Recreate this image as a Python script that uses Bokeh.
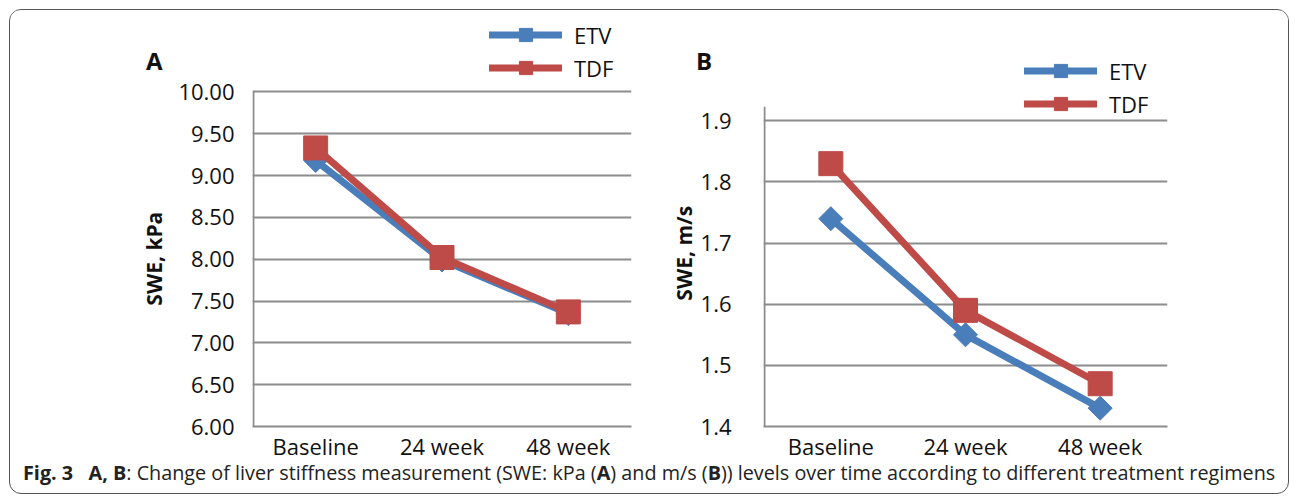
import math
from bokeh.plotting import figure
from bokeh.models import (Range1d, FactorRange, FixedTicker, PrintfTickFormatter,
                          Legend, LegendItem, Div, ColumnDataSource)
from bokeh.layouts import row, column
from bokeh.transform import dodge
from bokeh.embed import file_html
from bokeh.resources import INLINE

# ---------------- data ----------------
categories = ["Baseline", "24 week", "48 week"]
series_names = ["ETV", "TDF"]
kpa_etv = [9.18, 7.99, 7.35]
kpa_tdf = [9.33, 8.02, 7.37]
ms_etv = [1.74, 1.55, 1.43]
ms_tdf = [1.83, 1.59, 1.47]
kpa_ticks = [6.0, 6.5, 7.0, 7.5, 8.0, 8.5, 9.0, 9.5, 10.0]
ms_ticks = [1.4, 1.5, 1.6, 1.7, 1.8, 1.9]
panel_letters = ["A", "B"]

BLUE = "#4A7EBB"
RED = "#BE4B48"
GRID = "#8C8C8C"
FONT = "Open Sans"
TXT = "#111111"
NBSP = "\u00a0"

W, H = 639, 454


def make_panel(etv, tdf, ticks, fmt, y_end, axis_top, ytitle, title_pad, borders,
               tick_standoff, title_standoff, legend_loc):
    left, right, top, bottom = borders
    p = figure(x_range=FactorRange(factors=categories, range_padding=0),
               y_range=Range1d(ticks[0], y_end),
               width=W, height=H, output_backend="svg", toolbar_location=None,
               min_border_left=left, min_border_right=right,
               min_border_top=top, min_border_bottom=bottom)
    p.outline_line_color = None
    p.background_fill_color = "white"
    p.border_fill_color = "white"
    p.xgrid.grid_line_color = None
    p.ygrid.grid_line_color = GRID
    p.ygrid.grid_line_width = 2
    p.yaxis.ticker = FixedTicker(ticks=ticks)
    p.yaxis.formatter = PrintfTickFormatter(format=fmt)
    for ax in (p.xaxis, p.yaxis):
        ax.axis_line_color = GRID
        ax.axis_line_width = 2
        ax.major_tick_line_color = None
        ax.minor_tick_line_color = None
        ax.major_label_text_font = FONT
        ax.major_label_text_font_size = "22px"
        ax.major_label_text_color = TXT
    p.xaxis.major_label_standoff = -2
    p.yaxis.major_label_standoff = tick_standoff
    # trailing no-break spaces keep the title centred on the gridded part
    p.yaxis.axis_label = ytitle + NBSP * title_pad
    p.yaxis.axis_label_text_font = FONT
    p.yaxis.axis_label_text_font_style = "bold"
    p.yaxis.axis_label_text_font_size = "21px"
    p.yaxis.axis_label_text_color = TXT
    p.yaxis.axis_label_standoff = title_standoff

    # value axis line that stops at the top of the value scale
    p.yaxis.axis_line_color = None
    asrc = ColumnDataSource(dict(x=[categories[0]], y0=[ticks[0]], y1=[axis_top]))
    xd = dodge("x", -0.4926, range=p.x_range)
    p.segment(x0=xd, y0="y0", x1=xd, y1="y1", source=asrc,
              line_color=GRID, line_width=2)

    src = ColumnDataSource(dict(x=categories, etv=etv, tdf=tdf))
    l1 = p.line("x", "etv", source=src, line_color=BLUE, line_width=7,
                line_join="round", line_cap="round")
    m1 = p.scatter("x", "etv", source=src, marker="square", angle=math.pi / 4,
                   size=17, fill_color=BLUE, line_color=BLUE)
    l2 = p.line("x", "tdf", source=src, line_color=RED, line_width=7,
                line_join="round", line_cap="round")
    m2 = p.scatter("x", "tdf", source=src, marker="square", size=24,
                   fill_color=RED, line_color=RED)

    legend = Legend(items=[LegendItem(label=series_names[0], renderers=[l1, m1]),
                           LegendItem(label=series_names[1], renderers=[l2, m2])],
                    location=legend_loc, orientation="vertical",
                    glyph_width=73, glyph_height=33, label_height=33,
                    spacing=0, padding=0, margin=0, label_standoff=12,
                    border_line_color=None, background_fill_alpha=0,
                    label_text_font=FONT, label_text_font_size="22px",
                    label_text_color=TXT)
    p.add_layout(legend, "center")
    return p


pA = make_panel(kpa_etv, kpa_tdf, kpa_ticks, "%.2f", 10.925, 10.0, "SWE, kPa", 14,
                (242, 18, 4, 38), 12, 7, (237, 342))
pB = make_panel(ms_etv, ms_tdf, ms_ticks, "%.1f", 2.074, 1.923, "SWE, m/s", 12,
                (114, 121, 4, 38), 26, 0, (261, 306))

letter_css = ("position:absolute; top:-415px; font-weight:bold; font-size:24px; "
              "line-height:24px; color:#111111;")
caption = Div(
    text=('<div style="position:relative">'
          f'<span style="{letter_css} left:123px">{panel_letters[0]}</span>'
          f'<span style="{letter_css} left:673px">{panel_letters[1]}</span>'
          "<b>Fig. 3</b>&nbsp;&nbsp; <b>A, B</b>: Change of liver stiffness measurement "
          "(SWE: kPa (<b>A</b>) and m/s (<b>B</b>)) levels over time according to "
          "different treatment regimens</div>"),
    width=1265, height=29, margin=0,
    styles={"font-family": FONT, "font-size": "19.8px", "color": "#222222",
            "padding-left": "13px", "line-height": "18px", "white-space": "nowrap",
            "overflow": "visible"})

layout = column(row(pA, pB, spacing=0), caption, spacing=0,
                styles={"border": "1.5px solid #555555", "border-radius": "12px",
                        "margin": "9px 0 0 9px", "background": "white",
                        "overflow": "hidden"})

open("out.html", "w").write(file_html(layout, INLINE))
